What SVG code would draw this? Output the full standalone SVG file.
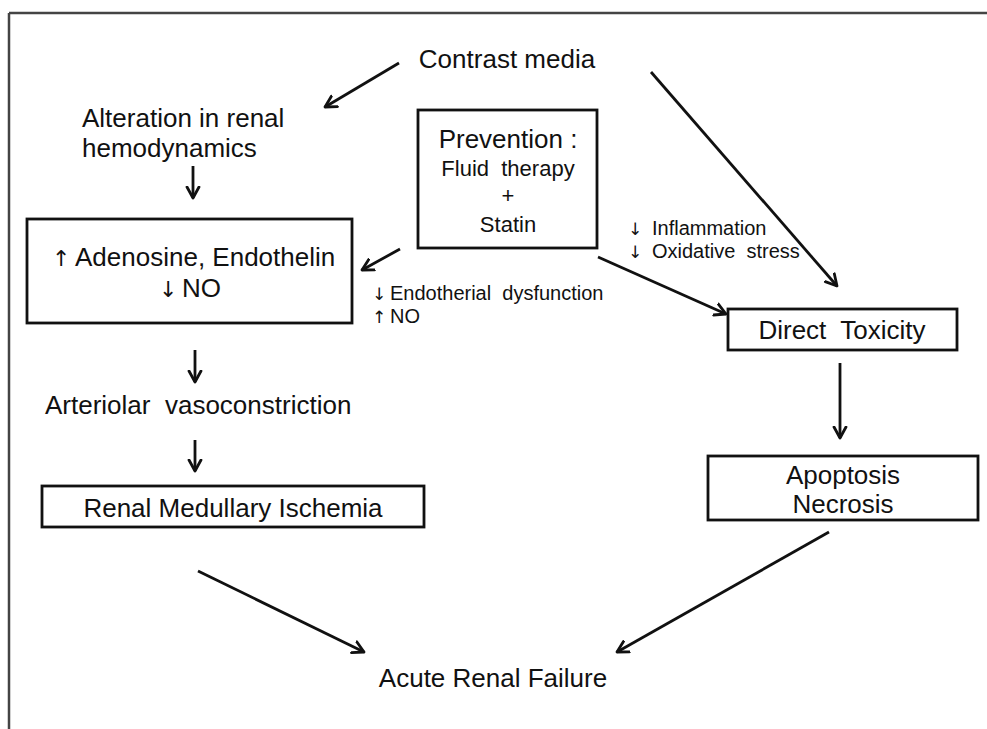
<svg xmlns="http://www.w3.org/2000/svg" width="987" height="729" viewBox="0 0 987 729">
<style>
text{font-family:"Liberation Sans",Arial,sans-serif;fill:#111}
.ar{font-family:"DejaVu Sans",sans-serif;font-weight:normal}
.al{font-size:22px}
.as{font-size:17px}
.l{font-size:26px}
.m{font-size:22px}
.s{font-size:20px}
.c{text-anchor:middle}
.box{fill:#fff;stroke:#111;stroke-width:2.8}
.arr{stroke:#111;stroke-width:2.8;fill:none;marker-end:url(#ah)}
</style>
<defs>
<marker id="ah" markerUnits="userSpaceOnUse" markerWidth="16" markerHeight="16" refX="12" refY="7" orient="auto" viewBox="0 0 16 14">
<path d="M1,1 L12,7 L1,13" fill="none" stroke="#111" stroke-width="2.8" stroke-linecap="round" stroke-linejoin="round"/>
</marker>
</defs>
<rect width="987" height="729" fill="#fff"/>
<g id="frame">
<path d="M9,13 H987 M9,13 V729" stroke="#444" stroke-width="2.5" fill="none"/>
</g>
<g id="connectors">
<line class="arr" x1="399" y1="63" x2="325" y2="107"/>
<line class="arr" x1="651" y1="72" x2="837" y2="286"/>
<line class="arr" x1="193" y1="166" x2="193" y2="198"/>
<line class="arr" x1="400" y1="249" x2="362" y2="270"/>
<line class="arr" x1="598" y1="257" x2="726" y2="314"/>
<line class="arr" x1="195" y1="350" x2="195" y2="382"/>
<line class="arr" x1="195" y1="440" x2="195" y2="471"/>
<line class="arr" x1="840" y1="363" x2="840" y2="438"/>
<line class="arr" x1="198" y1="571" x2="364" y2="652"/>
<line class="arr" x1="829" y1="532" x2="617" y2="652"/>
</g>
<g id="contrast">
<text class="l c" x="507" y="68">Contrast media</text>
</g>
<g id="alteration">
<text class="l" x="82" y="127">Alteration in renal</text>
<text class="l" x="82" y="157">hemodynamics</text>
</g>
<g id="adenosine">
<rect class="box" x="27" y="219" width="325" height="104"/>
<text class="l" y="266"><tspan class="ar al" x="52">↑</tspan><tspan x="75">Adenosine, Endothelin</tspan></text>
<text class="l" y="297"><tspan class="ar al" x="159">↓</tspan><tspan x="182">NO</tspan></text>
</g>
<g id="prevention">
<rect class="box" x="418" y="110" width="179" height="138"/>
<text class="l c" x="508" y="148">Prevention :</text>
<text class="m c" x="508" y="176" xml:space="preserve">Fluid  therapy</text>
<text class="m c" x="508" y="203">+</text>
<text class="m c" x="508" y="232">Statin</text>
</g>
<g id="label-endothelial">
<text class="s" y="300" xml:space="preserve"><tspan class="ar as" x="372">↓</tspan><tspan x="390">Endotherial  dysfunction</tspan></text>
<text class="s" y="323"><tspan class="ar as" x="372">↑</tspan><tspan x="390">NO</tspan></text>
</g>
<g id="label-inflammation">
<text class="s" y="235"><tspan class="ar as" x="628">↓</tspan><tspan x="652">Inflammation</tspan></text>
<text class="s" y="258" xml:space="preserve"><tspan class="ar as" x="628">↓</tspan><tspan x="652">Oxidative  stress</tspan></text>
</g>
<g id="direct">
<rect class="box" x="728" y="309" width="229" height="41"/>
<text class="l c" x="842" y="339" xml:space="preserve">Direct  Toxicity</text>
</g>
<g id="arteriolar">
<text class="l" x="45" y="414" xml:space="preserve">Arteriolar  vasoconstriction</text>
</g>
<g id="ischemia">
<rect class="box" x="42" y="486" width="382" height="41"/>
<text class="l c" x="233" y="517">Renal Medullary Ischemia</text>
</g>
<g id="apoptosis">
<rect class="box" x="708" y="456" width="270" height="64"/>
<text class="l c" x="843" y="484">Apoptosis</text>
<text class="l c" x="843" y="513">Necrosis</text>
</g>
<g id="arf">
<text class="l c" x="493" y="687">Acute Renal Failure</text>
</g>
</svg>
